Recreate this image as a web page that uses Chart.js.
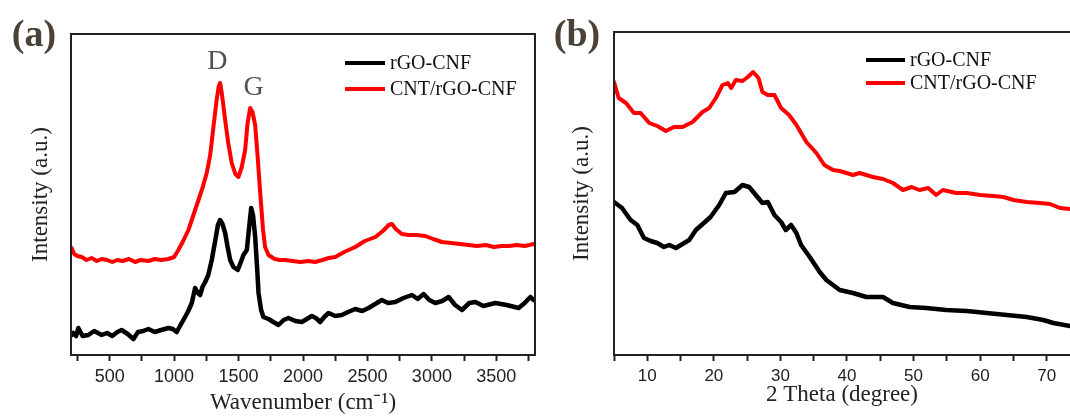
<!DOCTYPE html>
<html lang="en">
<head>
<meta charset="UTF-8">
<title>Raman and XRD of rGO-CNF</title>
<script src="https://cdn.jsdelivr.net/npm/chart.js@4.4.0/dist/chart.umd.min.js"></script>
<style>
  html, body { margin: 0; padding: 0; background: #fff; overflow: hidden; }
  #wrap { position: relative; width: 1070px; height: 419px; }
  #ramanChart { position: absolute; left: 0; top: 0; }
  #xrdChart { position: absolute; left: 545px; top: 0; }
</style>
</head>
<body>
<div id="wrap">
  <canvas id="ramanChart" width="545" height="419"></canvas>
  <canvas id="xrdChart" width="525" height="419"></canvas>
</div>
<script>
// ---- (a) Raman (intensity in arbitrary units) ----
const ramanShiftRGO = [205, 218, 240, 257, 290, 335, 380, 438, 480, 520, 560, 593, 640, 684, 720, 760, 800, 850, 900, 956,
  990, 1020, 1050, 1085, 1110, 1137, 1163, 1185, 1202, 1220, 1241, 1265, 1292, 1320, 1340, 1357, 1375, 1396, 1415, 1435,
  1460, 1494, 1515, 1538, 1564, 1580, 1598, 1612, 1629, 1645, 1655, 1675, 1693, 1732, 1770, 1810, 1850, 1887, 1940, 1991,
  2030, 2068, 2100, 2133, 2165, 2198, 2250, 2301, 2350, 2405, 2460, 2509, 2560, 2612, 2660, 2716, 2780, 2845, 2890, 2936,
  2980, 3026, 3080, 3130, 3180, 3233, 3290, 3337, 3400, 3492, 3580, 3673, 3720, 3764, 3790];
const ramanRGO = [20, 22, 19, 27, 19, 20, 24, 20, 22, 19, 23, 25, 21, 16, 23, 24, 26, 23, 25, 27,
  26, 23, 30, 38, 44, 52, 67, 62, 60, 68, 73, 80, 95, 115, 130, 135, 131, 122, 108, 95,
  88, 85, 92, 100, 105, 125, 147, 140, 118, 85, 62, 45, 38, 36, 33, 30, 35, 37, 34, 33,
  36, 39, 37, 33, 38, 42, 39, 40, 43, 46, 44, 47, 51, 55, 52, 53, 57, 60, 56, 61,
  55, 52, 54, 58, 50, 45, 52, 53, 49, 52, 50, 47, 52, 58, 55];

const ramanShiftCNT = [205, 225, 250, 283, 320, 360, 400, 438, 480, 520, 560, 600, 650, 697, 740, 800, 850, 900, 956, 1000,
  1033, 1070, 1111, 1150, 1189, 1220, 1253, 1280, 1305, 1330, 1345, 1357, 1370, 1396, 1420, 1447, 1475, 1499, 1525, 1551,
  1570, 1590, 1608, 1629, 1650, 1668, 1690, 1706, 1732, 1780, 1820, 1862, 1920, 1980, 2040, 2095, 2150, 2200, 2250, 2320,
  2405, 2480, 2561, 2620, 2665, 2690, 2720, 2767, 2820, 2880, 2949, 3010, 3078, 3150, 3220, 3285, 3350, 3420, 3480, 3543,
  3600, 3660, 3720, 3790];
const ramanCNT = [107, 101, 99, 98, 95, 97, 94, 96, 95, 93, 95, 94, 96, 93, 95, 94, 96, 95, 96, 98,
  105, 114, 125, 140, 155, 167, 182, 200, 228, 255, 268, 272, 262, 235, 212, 192, 181, 178, 188, 205,
  232, 247, 243, 230, 195, 162, 125, 108, 100, 96, 95, 95, 94, 93, 94, 93, 95, 97, 98, 103,
  108, 114, 118, 124, 130, 131, 126, 121, 120, 120, 119, 116, 113, 112, 111, 110, 109, 110, 108, 109,
  109, 110, 109, 111];

const ramanTicks = [250, 500, 750, 1000, 1250, 1500, 1750, 2000, 2250, 2500, 2750, 3000, 3250, 3500, 3750];
const ramanLabels = [500, 1000, 1500, 2000, 2500, 3000, 3500];
const ramanNotes = [{ text: 'D', x: 1336, y: 293 }, { text: 'G', x: 1616, y: 267 }];

// ---- (b) XRD ----
const thetaRGO = [5, 6.2, 7.5, 8.5, 9.5, 10.5, 11.5, 12.5, 13.3, 14.3, 15.3, 16.3, 17.3, 18.5, 19.5, 20.8, 21.8, 23.1, 24.3, 25.3,
  26.3, 27.3, 28.1, 29.1, 30.1, 30.8, 31.6, 32.4, 33.1, 34.4, 35.9, 36.9, 38.9, 40.9, 42.9, 45.4, 46.9, 49.4, 51.9, 54.9,
  58, 61, 64, 67, 69.5, 71, 73.5];
const xrdRGO = [153, 147, 135, 130, 117, 114, 112, 108, 110, 107, 111, 115, 125, 132, 138, 150, 162, 163, 170, 168,
  160, 152, 153, 140, 133, 125, 130, 122, 110, 98, 83, 75, 65, 62, 58, 58, 52, 48, 47, 45,
  44, 42, 40, 38, 35, 32, 29];

const thetaCNT = [5, 5.7, 6.8, 8, 9, 10.3, 11.5, 12.8, 14, 15.3, 16.8, 18.3, 19.3, 20.3, 21.3, 22.1, 22.6, 23.3, 24.3, 25.1,
  25.9, 26.7, 27.3, 28.1, 29.1, 30.1, 31.3, 32.4, 33.9, 35.4, 36.6, 37.9, 38.9, 40.9, 41.9, 43.9, 45.4, 46.9, 48.4, 49.7,
  50.9, 52.2, 53.4, 54.4, 56.4, 58, 60, 62, 63.5, 65, 67, 69, 70.5, 72, 73.5];
const xrdCNT = [273, 257, 252, 242, 242, 232, 229, 224, 228, 228, 233, 243, 247, 257, 270, 272, 267, 275, 274, 278,
  283, 277, 263, 260, 260, 247, 240, 230, 213, 202, 190, 185, 184, 180, 182, 178, 176, 172, 165, 168,
  165, 167, 160, 165, 162, 162, 160, 159, 158, 155, 153, 152, 151, 147, 146];

const thetaTicks = [5, 10, 15, 20, 25, 30, 35, 40, 45, 50, 55, 60, 65, 70];
const thetaLabels = [10, 20, 30, 40, 50, 60, 70];

const seriesNames = ['rGO-CNF', 'CNT/rGO-CNF'];

const SERIF = '"Liberation Serif", "Times New Roman", serif';
const SANS = '"Liberation Sans", Arial, sans-serif';

function pairs(xs, ys) {
  return xs.map((x, i) => ({ x: x, y: ys[i] }));
}

// frame, panel letter, peak notes and legend drawn inside the plot
const decor = {
  id: 'decor',
  afterDraw(chart, args, o) {
    const ctx = chart.ctx, a = chart.chartArea;
    ctx.save();
    ctx.strokeStyle = '#222';
    ctx.lineWidth = 2;
    ctx.beginPath();
    if (o.closeRight) {
      ctx.rect(a.left, a.top, a.right - a.left, a.bottom - a.top);
    } else {
      ctx.moveTo(a.right + 2, a.top);
      ctx.lineTo(a.left, a.top);
      ctx.lineTo(a.left, a.bottom);
      ctx.lineTo(a.right + 2, a.bottom);
    }
    ctx.stroke();

    ctx.fillStyle = '#4a4137';
    ctx.font = 'bold 38px ' + SERIF;
    ctx.textAlign = 'center';
    ctx.textBaseline = 'middle';
    ctx.fillText(o.tag, o.tagX, o.tagY);

    ctx.fillStyle = '#505050';
    ctx.font = '28px ' + SERIF;
    (o.notes || []).forEach(n => {
      ctx.fillText(n.text, chart.scales.x.getPixelForValue(n.x), chart.scales.y.getPixelForValue(n.y));
    });

    ctx.font = '20px ' + SERIF;
    ctx.textAlign = 'left';
    chart.data.datasets.forEach((ds, i) => {
      const y = a.top + o.legTop + i * o.legGap;
      const x0 = a.right - o.legRight;
      ctx.strokeStyle = ds.borderColor;
      ctx.lineWidth = 4;
      ctx.beginPath();
      ctx.moveTo(x0, y);
      ctx.lineTo(x0 + o.legLen, y);
      ctx.stroke();
      ctx.fillStyle = '#111';
      ctx.fillText(ds.label, x0 + o.legLen + 5, y + 1);
    });
    ctx.restore();
  }
};

function xAxis(min, max, tickVals, labelVals, size, title, titlePad) {
  return {
    type: 'linear',
    min: min,
    max: max,
    afterBuildTicks: s => { s.ticks = tickVals.map(v => ({ value: v })); },
    afterFit: s => { s.height = 64; },
    grid: { display: true, drawOnChartArea: false, drawTicks: true, tickLength: 6, tickWidth: 2, tickColor: '#222' },
    border: { display: false },
    ticks: {
      autoSkip: false, maxRotation: 0, padding: 5, color: '#222',
      font: { family: SANS, size: size },
      callback: v => labelVals.includes(v) ? String(v) : ''
    },
    title: { display: true, text: title, color: '#222', font: { family: SERIF, size: 23 }, padding: { top: 0, bottom: titlePad } }
  };
}

function yAxis(max, width, titlePad) {
  return {
    type: 'linear',
    min: 0,
    max: max,
    afterFit: s => { s.width = width; },
    grid: { display: false },
    border: { display: false },
    ticks: { display: false },
    title: { display: true, text: 'Intensity (a.u.)', color: '#222', font: { family: SERIF, size: 23 }, padding: { top: titlePad, bottom: 0 } }
  };
}

function lineSet(label, pts, color, w) {
  return {
    label: label, data: pts, borderColor: color, backgroundColor: color,
    borderWidth: w, pointRadius: 0, tension: 0, borderJoinStyle: 'round', borderCapStyle: 'round'
  };
}

new Chart(document.getElementById('ramanChart'), {
  type: 'line',
  data: {
    datasets: [
      lineSet(seriesNames[0], pairs(ramanShiftRGO, ramanRGO), '#000000', 4.5),
      lineSet(seriesNames[1], pairs(ramanShiftCNT, ramanCNT), '#ff0000', 4)
    ]
  },
  options: {
    responsive: false,
    animation: false,
    devicePixelRatio: 1,
    layout: { padding: { left: 0, top: 34, right: 10, bottom: 0 } },
    scales: {
      x: xAxis(200, 3800, ramanTicks, ramanLabels, 18, 'Wavenumber (cm\u207B\u00B9)', 2),
      y: yAxis(321, 71, 27)
    },
    plugins: {
      legend: { display: false },
      tooltip: { enabled: false },
      decor: { closeRight: true, tag: '(a)', tagX: 34, tagY: 36, notes: ramanNotes, legTop: 29, legGap: 26, legRight: 190, legLen: 40 }
    }
  },
  plugins: [decor]
});

new Chart(document.getElementById('xrdChart'), {
  type: 'line',
  data: {
    datasets: [
      lineSet(seriesNames[0], pairs(thetaRGO, xrdRGO), '#000000', 4.5),
      lineSet(seriesNames[1], pairs(thetaCNT, xrdCNT), '#ff0000', 4)
    ]
  },
  options: {
    responsive: false,
    animation: false,
    devicePixelRatio: 1,
    layout: { padding: { left: 0, top: 32, right: 0, bottom: 0 } },
    scales: {
      x: xAxis(5, 73.5, thetaTicks, thetaLabels, 17, '2 Theta (degree)', 10),
      y: yAxis(323, 69, 23)
    },
    plugins: {
      legend: { display: false },
      tooltip: { enabled: false },
      decor: { closeRight: false, tag: '(b)', tagX: 32, tagY: 36, notes: [], legTop: 28, legGap: 23, legRight: 204, legLen: 39 }
    }
  },
  plugins: [decor]
});
</script>
</body>
</html>
